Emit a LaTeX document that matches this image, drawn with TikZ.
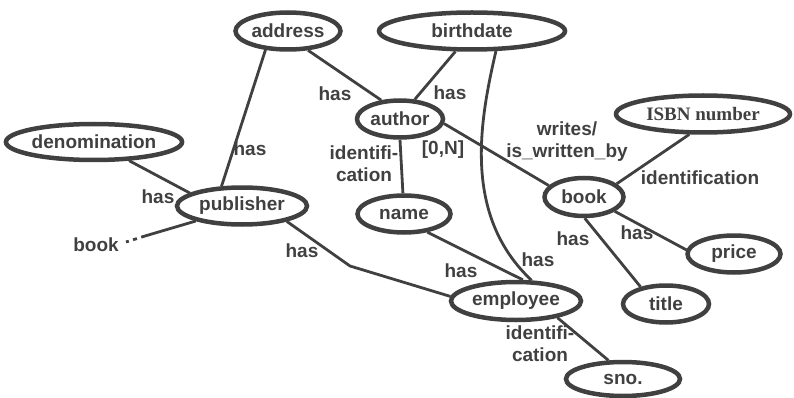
\documentclass[tikz,border=0pt]{standalone}
\usepackage{fontspec}
\setmainfont{Liberation Sans}
\newfontfamily\isbnfont{Liberation Serif}
\usetikzlibrary{shapes.geometric}
\definecolor{ink}{RGB}{64,64,64}
\tikzset{
  attr/.style={ellipse, draw=ink, line width=4.5pt, inner sep=0pt, text=ink,
    font=\fontsize{19}{22}\selectfont\bfseries},
  conn/.style={draw=ink, line width=2.8pt},
  lbl/.style={text=ink, font=\fontsize{19}{22}\selectfont\bfseries, align=center, inner sep=0pt}
}
\begin{document}
\begin{tikzpicture}[x=1pt,y=-1pt]
\useasboundingbox (0,0) rectangle (794,398);
% entities / attributes
\node[attr, minimum width=105, minimum height=37] (address) at (288,31) {address};
\node[attr, minimum width=186, minimum height=37] (birthdate) at (472,31) {birthdate};
\node[attr, minimum width=86, minimum height=37] (author) at (400,119) {author};
\node[attr, minimum width=168, minimum height=36] (denom) at (94,142) {denomination};
\node[attr, minimum width=130, minimum height=37] (publisher) at (242,206) {publisher};
\node[attr, minimum width=93, minimum height=37] (name) at (404,214) {name};
\node[attr, minimum width=79, minimum height=38] (book) at (584,197) {book};
\node[attr, minimum width=174, minimum height=37, font=\fontsize{19}{22}\selectfont\isbnfont\bfseries] (isbn) at (703,114) {ISBN number};
\node[attr, minimum width=93, minimum height=37] (price) at (734,254) {price};
\node[attr, minimum width=86, minimum height=37] (title) at (666,304) {title};
\node[attr, minimum width=130, minimum height=38] (employee) at (516,301) {employee};
\node[attr, minimum width=114, minimum height=34] (sno) at (623,379) {sno.};
\coordinate (pbend) at (350,266);
\coordinate (dotA) at (145,236);
\coordinate (dotB) at (126,242);
% connectors
\draw[conn] (address.-44) -- (author.135);
\draw[conn] (address.-140) -- (publisher.136);
\draw[conn] (birthdate.-129) -- (author.53);
\draw[conn] (birthdate.-40) .. controls (480,120) and (462,215) .. (employee.53);
\draw[conn] (author.-90) -- (name.93);
\draw[conn] (author.-6) -- (book.162);
\draw[conn] (isbn.-124) -- (book.22);
\draw[conn] (denom.-28) -- (publisher.166);
\draw[conn] (publisher.-162) -- (dotA);
\draw[conn, dash pattern=on 4pt off 4.5pt] (dotA) -- (dotB);
\draw[conn] (publisher.-19) -- (pbend) -- (employee.176);
\draw[conn] (name.-38) -- (employee.72);
\draw[conn] (book.-88) -- (title.146);
\draw[conn] (book.-25) -- (price.175);
\draw[conn] (employee.-22) -- (sno.128);
% labels
\node[lbl] (l1) at (335,94) {has};
\node[lbl] (l2) at (450,93) {has};
\node[lbl] (l3) at (250,149) {has};
\node[lbl] (l4) at (364,164) {identifi-\\cation};
\node[lbl] (l5) at (443,150) {[0,N]};
\node[lbl] (l6) at (567,142) {writes/\\is\_written\_by};
\node[lbl] (l7) at (700,178) {identification};
\node[lbl] (l8) at (158,197) {has};
\node[lbl] (l9) at (96,245) {book};
\node[lbl] (l10) at (302,251) {has};
\node[lbl] (l11) at (461,271) {has};
\node[lbl] (l12) at (538,260) {has};
\node[lbl] (l13) at (573,239) {has};
\node[lbl] (l14) at (637,233) {has};
\node[lbl] (l15) at (540,344) {identifi-\\cation};
\end{tikzpicture}
\end{document}
